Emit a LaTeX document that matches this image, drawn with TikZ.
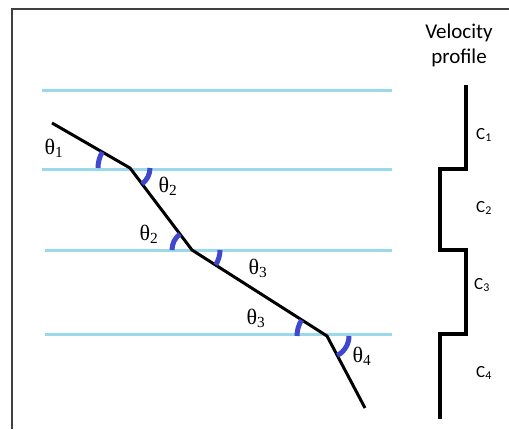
\documentclass[tikz,border=0pt]{standalone}
\usepackage{fontspec}
\setmainfont{Carlito}
\newfontfamily\greekfont{Liberation Serif}
\usepackage{tikz}
\usetikzlibrary{positioning}
\usepackage{xcolor}
\definecolor{layerblue}{RGB}{153,217,234}
\definecolor{markblue}{RGB}{63,72,204}

\begin{document}
\begin{tikzpicture}[x=1pt,y=-1pt,
    layer/.style={layerblue, line width=3pt},
    ray/.style={black, line width=3pt, line join=round},
    anglemark/.style={markblue, line width=5pt},
    profile/.style={black, line width=3.5pt, line join=miter},
    anglelabel/.style={font=\greekfont\fontsize{22}{22}\selectfont, inner sep=0pt},
    speedlabel/.style={font=\fontsize{17}{17}\selectfont, inner sep=0pt}]
                    \useasboundingbox (0,0) rectangle (509,429);

                    % Frame
                    \draw[black!75, line width=1.5pt] (12,429) -- (12,9) -- (509,9);

                    % Layer boundaries
                    \coordinate (L0a) at (42,90);  \coordinate (L0b) at (392,90);
                    \coordinate (L1a) at (42,169); \coordinate (L1b) at (392,169);
                    \coordinate (L2a) at (45,250); \coordinate (L2b) at (392,250);
                    \coordinate (L3a) at (45,334); \coordinate (L3b) at (392,334);
                    \draw[layer] (L0a) -- (L0b);
                    \draw[layer] (L1a) -- (L1b);
                    \draw[layer] (L2a) -- (L2b);
                    \draw[layer] (L3a) -- (L3b);

                    % Ray path
                    \coordinate (S) at (52,123);
                    \coordinate (K1) at (130,168);
                    \coordinate (K2) at (192,250);
                    \coordinate (K3) at (327,336);
                    \coordinate (E) at (365,408);
                    \draw[ray] (S) -- (K1) -- (K2) -- (K3) -- (E);

                    % Angle marks (y axis points down, so angles run clockwise)
                    \draw[anglemark] ([shift={(180:32)}]K1) arc (180:210:32);
                    \draw[anglemark] ([shift={(0:20)}]K1) arc (0:53:20);
                    \draw[anglemark] ([shift={(180:20)}]K2) arc (180:233:20);
                    \draw[anglemark] ([shift={(0:28)}]K2) arc (0:32:28);
                    \draw[anglemark] ([shift={(180:30)}]K3) arc (180:212:30);
                    \draw[anglemark] ([shift={(0:22)}]K3) arc (0:62:22);

                    % Angle labels
                    \node[anglelabel] (t1) at (54,148) {θ\textsubscript{1}};
                    \node[anglelabel] (t2a) at (168,186) {θ\textsubscript{2}};
                    \node[anglelabel] (t2b) at (149,234) {θ\textsubscript{2}};
                    \node[anglelabel] (t3a) at (258,268) {θ\textsubscript{3}};
                    \node[anglelabel] (t3b) at (256,318) {θ\textsubscript{3}};
                    \node[anglelabel] (t4) at (362,356) {θ\textsubscript{4}};

                    % Velocity profile
                    \node[font=\fontsize{21}{25}\selectfont, align=center, inner sep=0pt] (title) at (459,45) {Velocity\\profile};
                    \coordinate (P0) at (466,85);
                    \coordinate (P4) at (440,419);
                    \draw[profile] (P0) -- (466,169) -- (440,169) -- (440,250)
                        -- (466,250) -- (466,334) -- (440,334) -- (P4);
                    \node[speedlabel] (c1) at (484,135) {C\textsubscript{1}};
                    \node[speedlabel] (c2) at (484,208) {C\textsubscript{2}};
                    \node[speedlabel] (c3) at (482,285) {C\textsubscript{3}};
                    \node[speedlabel] (c4) at (484,373) {C\textsubscript{4}};

                \end{tikzpicture}
\end{document}
